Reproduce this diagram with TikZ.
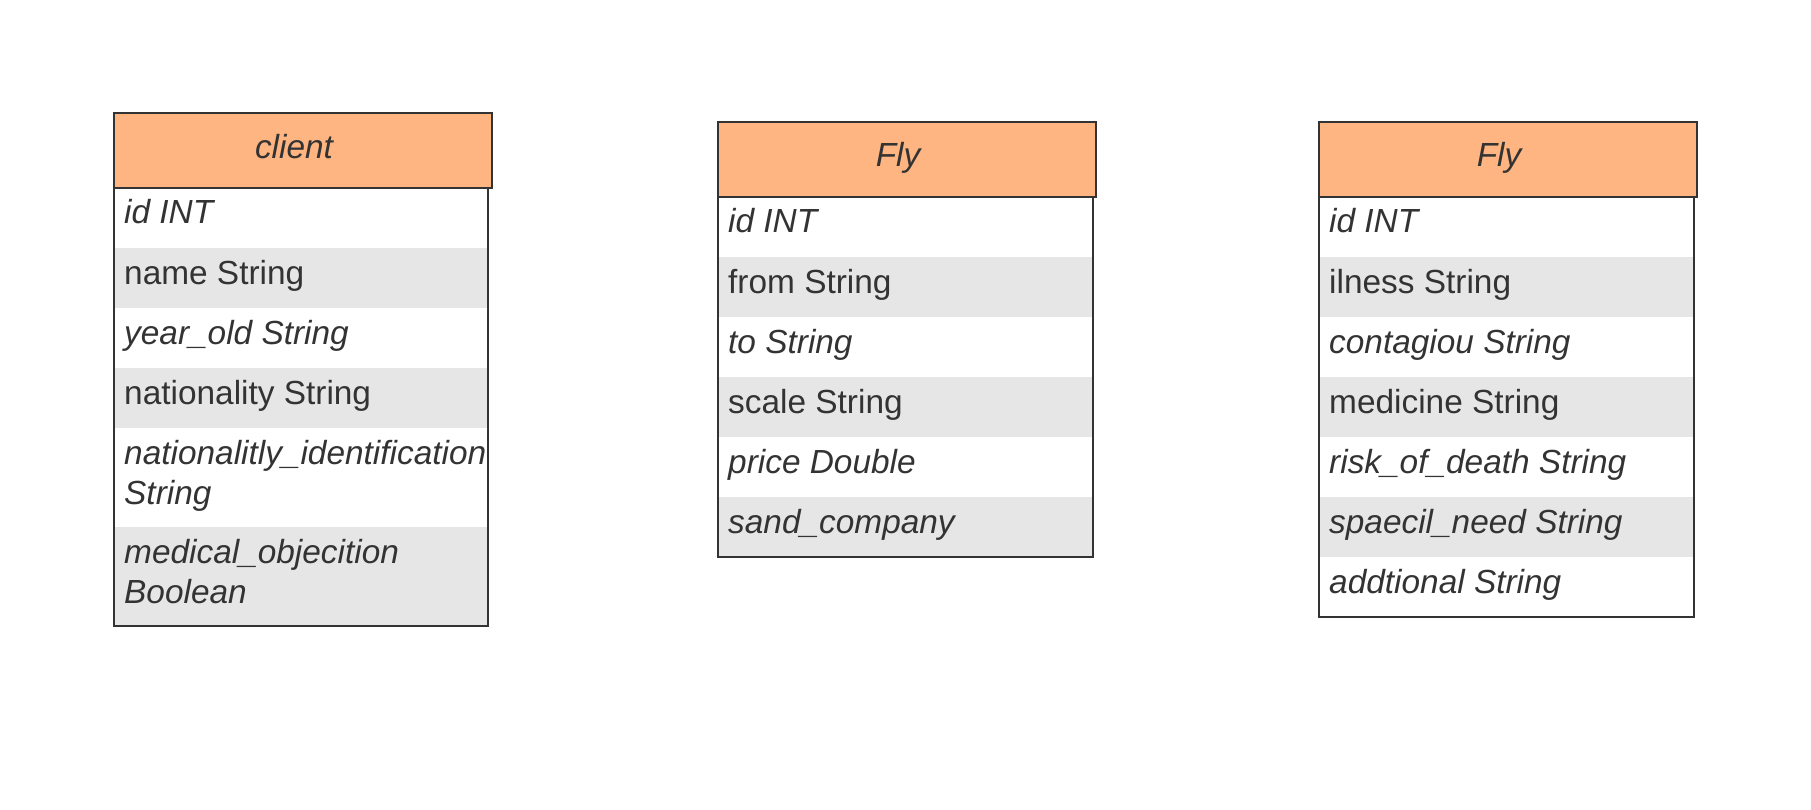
\documentclass[tikz,border=0pt]{standalone}
\usepackage{fontspec}
\setmainfont{Liberation Sans}
\definecolor{hdr}{HTML}{FFB581}
\definecolor{rowg}{HTML}{E6E6E6}
\definecolor{ink}{HTML}{333333}
\begin{document}
\begin{tikzpicture}[x=1pt,y=-1pt,
  txt/.style={anchor=base west,inner sep=0pt,text=ink,font=\fontsize{33.4}{40}\selectfont\itshape,align=left},
  txtup/.style={txt,font=\fontsize{33.4}{40}\selectfont\upshape},
  ttl/.style={anchor=base,inner sep=0pt,text=ink,font=\fontsize{33.4}{40}\selectfont\itshape},
  hdrbox/.style={fill=hdr,draw=ink,line width=2pt},
  bodybox/.style={draw=ink,line width=2pt},
  grayrow/.style={fill=rowg}]
\useasboundingbox (0,0) rectangle (1811,810);
\fill[white] (0,0) rectangle (1811,810);
% ---------- client ----------
\fill[grayrow] (114,248) rectangle (488,308);
\fill[grayrow] (114,368) rectangle (488,428);
\fill[grayrow] (114,527) rectangle (488,626);
\draw[bodybox] (114,188) -- (114,626) -- (488,626) -- (488,188);
\draw[hdrbox] (114,113) rectangle (492,188);
\node[ttl] (ct) at (294,159) {client};
\node[txt] (c1) at (124,224) {id INT};
\node[txtup] (c2) at (124,284) {name String};
\node[txt] (c3) at (124,344) {year\_old String};
\node[txtup] (c4) at (124,404) {nationality String};
\node[txt] (c5) at (124,504) {nationalitly\_identification\\String};
\node[txt] (c6) at (124,603) {medical\_objecition\\Boolean};
% ---------- Fly 1 ----------
\fill[grayrow] (718,257) rectangle (1093,317);
\fill[grayrow] (718,377) rectangle (1093,437);
\fill[grayrow] (718,497) rectangle (1093,557);
\draw[bodybox] (718,197) -- (718,557) -- (1093,557) -- (1093,197);
\draw[hdrbox] (718,122) rectangle (1096,197);
\node[ttl] (ft) at (898,167) {Fly};
\node[txt] (f1) at (728,233) {id INT};
\node[txtup] (f2) at (728,293) {from String};
\node[txt] (f3) at (728,353) {to String};
\node[txtup] (f4) at (728,413) {scale String};
\node[txt] (f5) at (728,473) {price Double};
\node[txt] (f6) at (728,533) {sand\_company};
% ---------- Fly 2 ----------
\fill[grayrow] (1319,257) rectangle (1694,317);
\fill[grayrow] (1319,377) rectangle (1694,437);
\fill[grayrow] (1319,497) rectangle (1694,557);
\draw[bodybox] (1319,197) -- (1319,617) -- (1694,617) -- (1694,197);
\draw[hdrbox] (1319,122) rectangle (1697,197);
\node[ttl] (gt) at (1499,167) {Fly};
\node[txt] (g1) at (1329,233) {id INT};
\node[txtup] (g2) at (1329,293) {ilness String};
\node[txt] (g3) at (1329,353) {contagiou String};
\node[txtup] (g4) at (1329,413) {medicine String};
\node[txt] (g5) at (1329,473) {risk\_of\_death String};
\node[txt] (g6) at (1329,533) {spaecil\_need String};
\node[txt] (g7) at (1329,593) {addtional String};
\end{tikzpicture}
\end{document}
